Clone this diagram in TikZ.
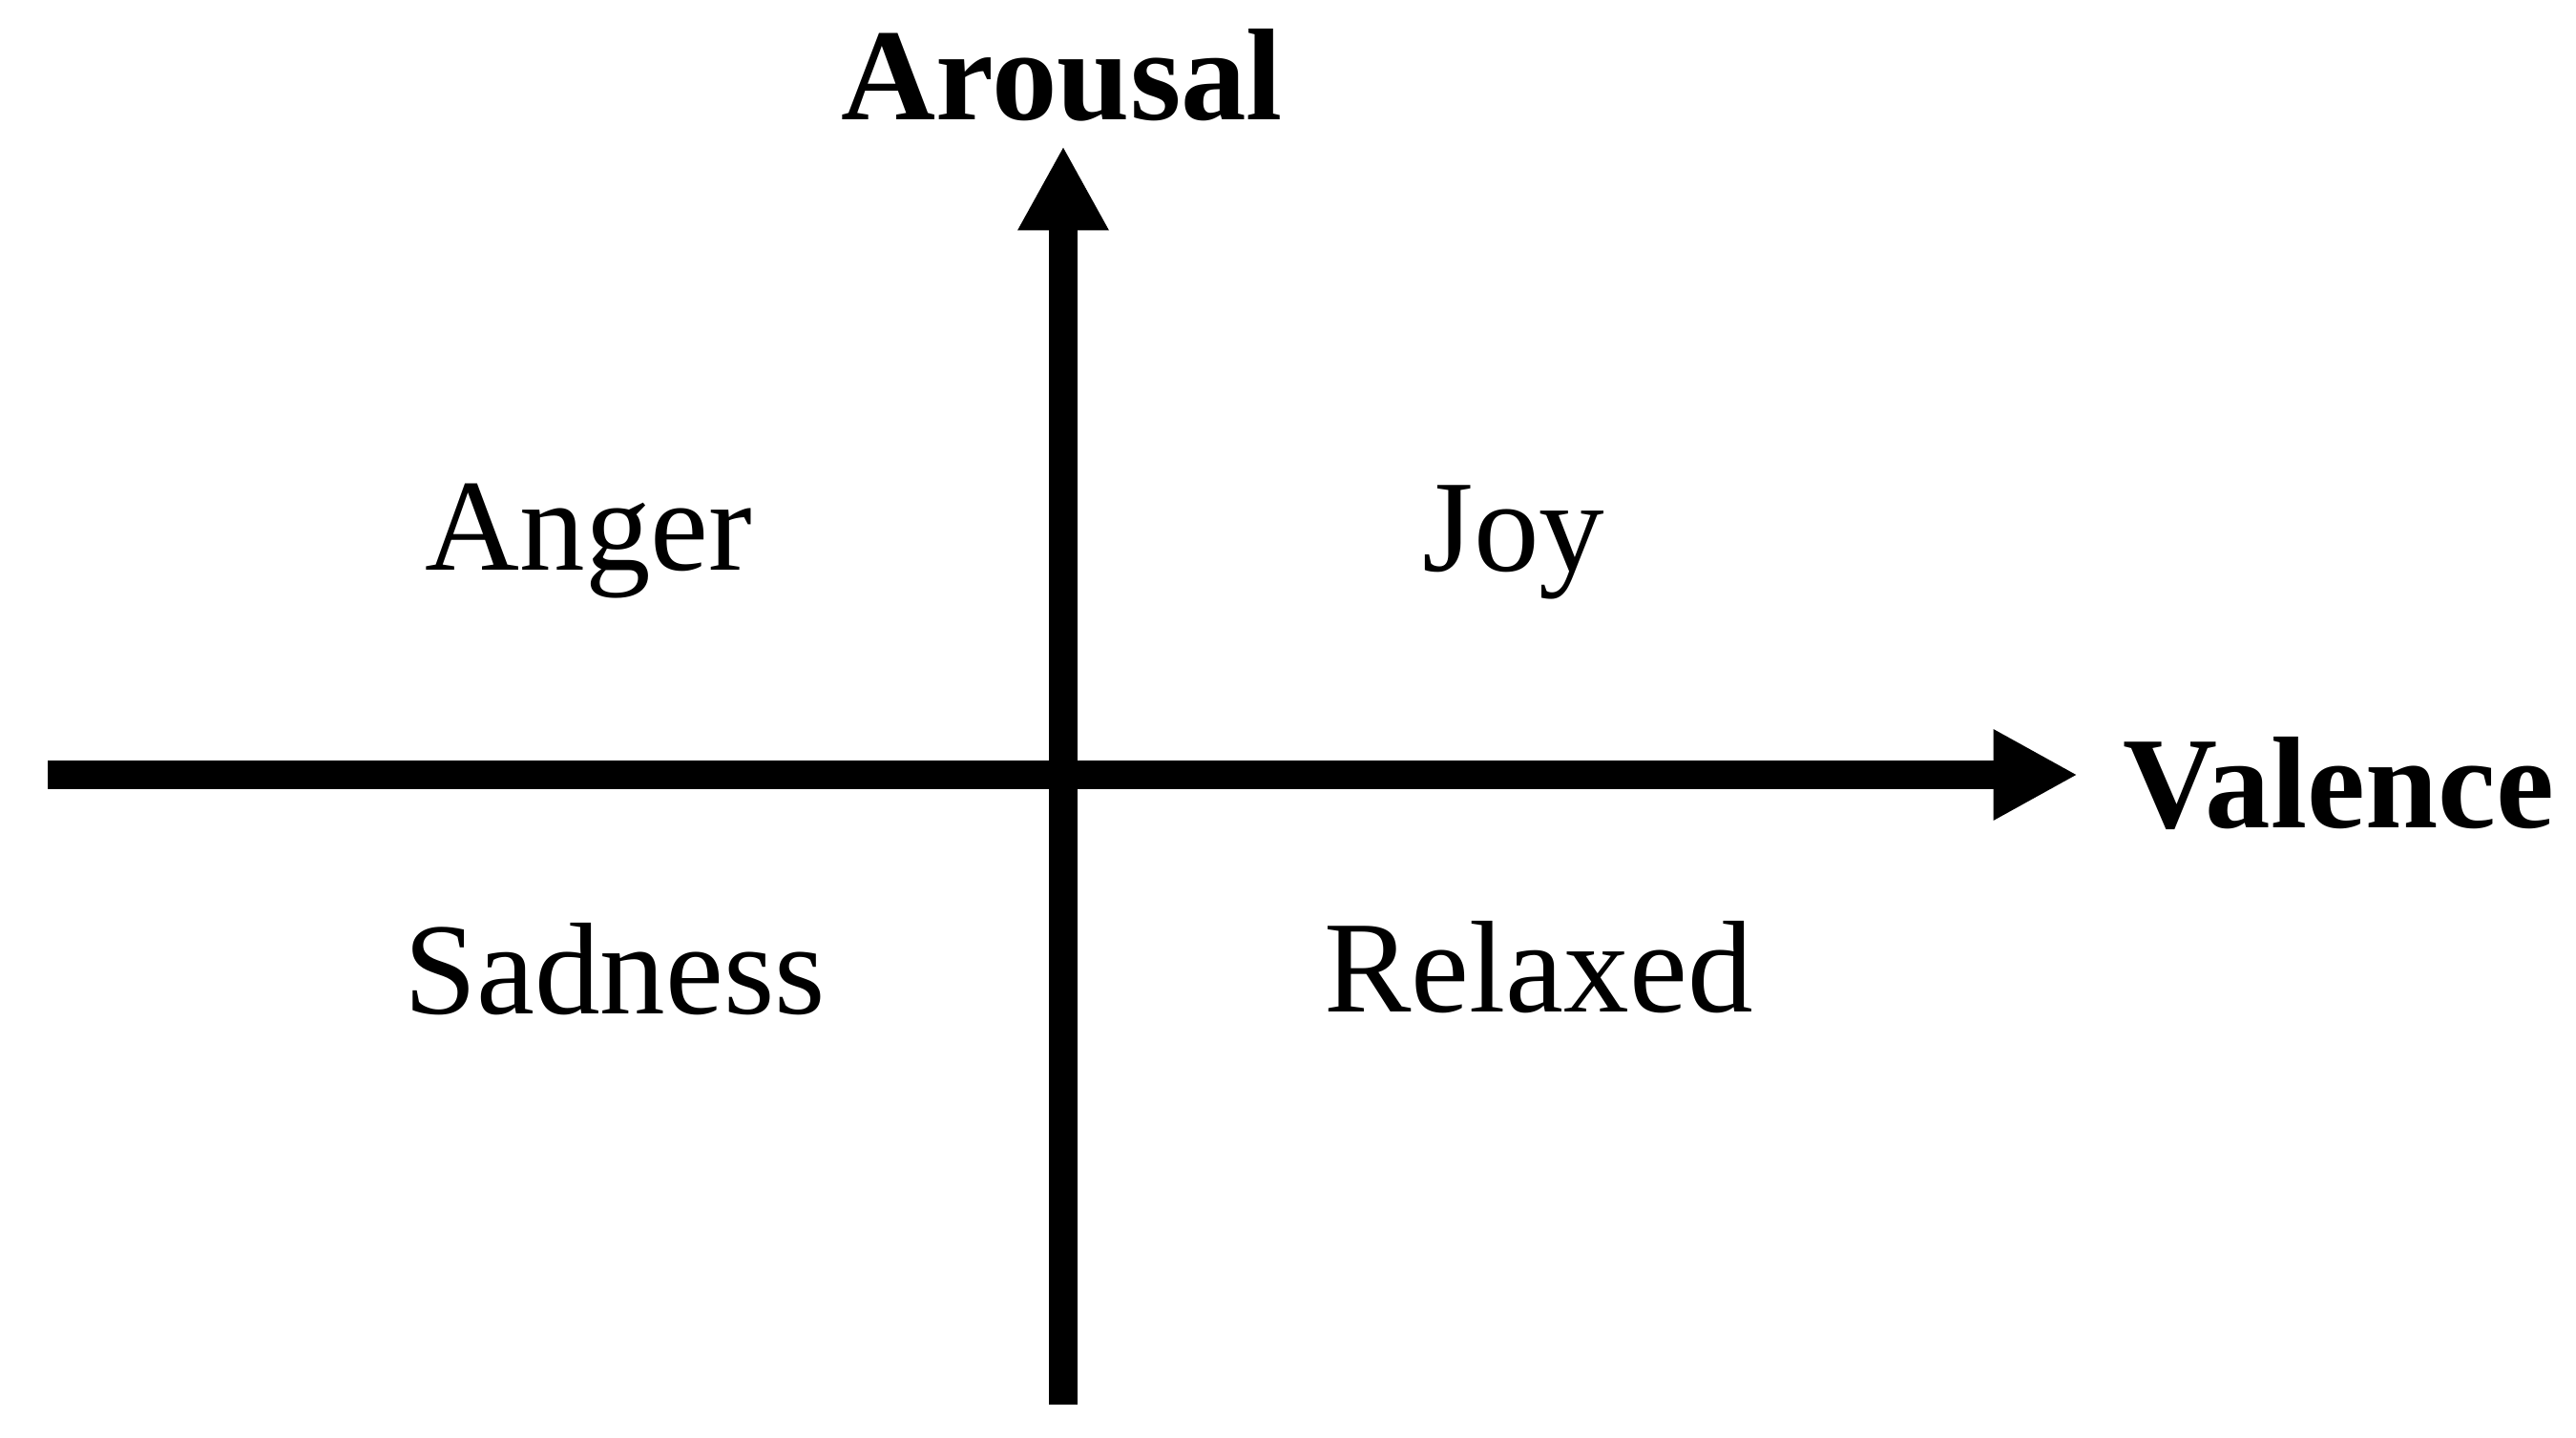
\documentclass[tikz,border=0pt]{standalone}
\usepackage{fontspec}
\setmainfont{Liberation Serif}
\usetikzlibrary{arrows.meta}

\begin{document}
\begin{tikzpicture}[
    axisline/.style={line width=0.295cm, -{Triangle[length=0.885cm, width=0.89cm]}},
    emo/.style={inner sep=0pt, anchor=base, font=\fontsize{39}{47}\selectfont},
    axisname/.style={emo, font=\fontsize{39}{47}\selectfont\bfseries}]
  \useasboundingbox (0,0) rectangle (26.99,15.06);
  % ends of the two axes
  \coordinate (west) at (0.50,6.94);
  \coordinate (east) at (21.77,6.94);
  \coordinate (south) at (11.14,0.34);
  \coordinate (north) at (11.14,13.53);
  \draw[axisline] (west) -- (east);
  \draw[axisline] (south) -- (north);
  % axis names
  \node[axisname] (arousal) at (11.13,13.80) {Arousal};
  \node[axisname] (valence) at (24.50,6.39) {Valence};
  % one emotion per quadrant
  \node[emo] (anger) at (6.17,9.08) {Anger};
  \node[emo] (joy) at (15.86,9.07) {Joy};
  \node[emo] (sadness) at (6.44,4.44) {Sadness};
  \node[emo] (relaxed) at (16.12,4.46) {Relaxed};
\end{tikzpicture}
\end{document}
